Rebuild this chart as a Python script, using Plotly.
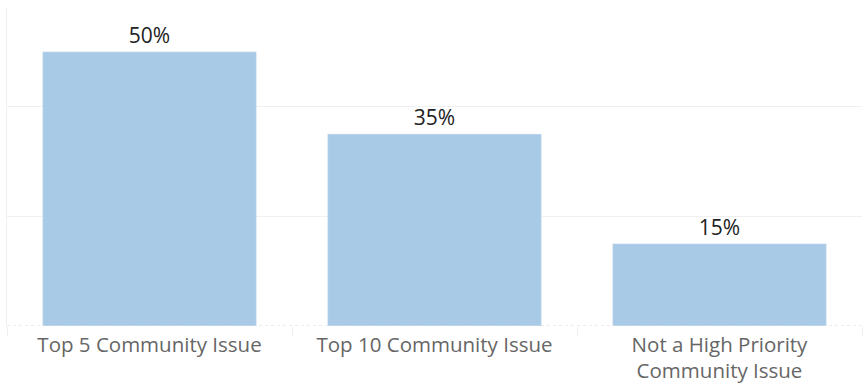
import plotly.graph_objects as go

categories = ["Top 5 Community Issue", "Top 10 Community Issue", "Not a High Priority<br>Community Issue"]
values = [50, 35, 15]
labels = ["50%", "35%", "15%"]

fig = go.Figure(go.Bar(
    x=categories, y=values, text=labels, textposition="outside",
    marker_color="#a8cae6", width=0.75,
    textfont=dict(family="Open Sans", size=21, color="#222222"),
    cliponaxis=False,
))
fig.update_layout(
    width=866, height=385,
    margin=dict(l=7, r=4, t=8, b=59, autoexpand=False),
    plot_bgcolor="white", paper_bgcolor="white",
    showlegend=False,
    font=dict(family="Open Sans"),
)
fig.update_xaxes(
    showgrid=False, ticks="outside", tickson="boundaries", ticklen=9,
    tickcolor="#eeeeee", tickwidth=1, ticklabelstandoff=4,
    tickfont=dict(family="Open Sans", size=20.5, color="#666666"),
    showline=False, zeroline=False, automargin=False,
)
fig.update_yaxes(
    range=[0, 58], showticklabels=False, showgrid=True, gridcolor="#f0f0f0",
    dtick=20, zeroline=False, showline=True, linecolor="#f0f0f0", linewidth=1,
    automargin=False,
)
fig.add_shape(type="line", xref="paper", yref="y", x0=0, x1=1, y0=0, y1=0,
              line=dict(color="#d8d8d8", width=1, dash="dot"))
fig.write_html("out.html", config={"displayModeBar": False},
               post_script="document.body.style.margin='0';document.body.style.padding='0';")
